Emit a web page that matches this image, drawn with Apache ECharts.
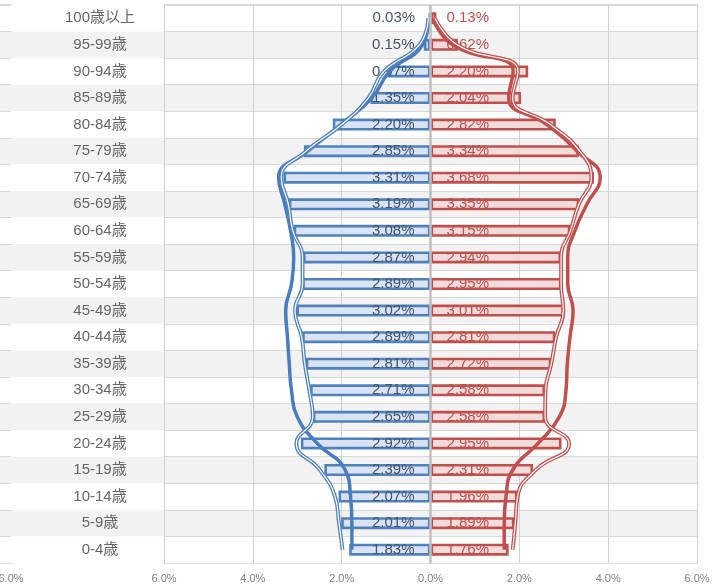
<!DOCTYPE html>
<html>
<head>
<meta charset="utf-8">
<script src="https://cdn.jsdelivr.net/npm/echarts@6/dist/echarts.min.js"></script>
<style>html,body{margin:0;padding:0;background:#fff;}#c{width:718px;height:587px;}</style>
</head>
<body>
<div id="c"></div>
<script>
const ages = ['100歳以上','95-99歳','90-94歳','85-89歳','80-84歳','75-79歳','70-74歳','65-69歳','60-64歳','55-59歳','50-54歳','45-49歳','40-44歳','35-39歳','30-34歳','25-29歳','20-24歳','15-19歳','10-14歳','5-9歳','0-4歳'];
const maleBar = [0.03,0.15,0.97,1.35,2.20,2.85,3.31,3.19,3.08,2.87,2.89,3.02,2.89,2.81,2.71,2.65,2.92,2.39,2.07,2.01,1.83];
const femaleBar = [0.13,0.62,2.20,2.04,2.82,3.34,3.68,3.35,3.15,2.94,2.95,3.01,2.81,2.72,2.58,2.58,2.95,2.31,1.96,1.89,1.76];
const maleThick = [0.04,0.18,0.92,1.32,2.02,2.76,3.42,3.28,3.15,3.08,3.13,3.26,3.22,3.18,3.13,3.00,2.55,1.92,1.80,1.77,1.77];
const maleDouble = [0.05,0.25,1.05,1.40,2.00,2.80,3.36,3.20,3.10,2.88,2.88,3.05,2.90,2.83,2.73,2.65,3.02,2.49,2.15,2.06,1.98];
const femaleThick = [0.05,0.50,1.86,1.76,2.62,3.30,3.82,3.52,3.25,3.09,3.09,3.21,3.14,3.08,3.05,2.90,2.42,1.85,1.70,1.66,1.66];
const femaleDouble = [0.10,0.60,1.97,1.85,2.70,3.36,3.62,3.34,3.15,2.94,2.94,2.99,2.83,2.72,2.59,2.58,3.12,2.37,1.96,1.91,1.85];
const xTicks = {min: -6, max: 6, interval: 2};
const leftPanelTicks = {min: 4, max: 6, interval: 2};

const FONT = "'Liberation Sans', 'Noto Sans CJK JP', sans-serif";
const BLUE = '#4f81bd', RED = '#c0504d';
const neg = a => a.map(v => -v);
const pct1 = v => Math.abs(v).toFixed(1) + '%';

const bandArea = {show: true, areaStyle: {color: ['#ffffff', '#f2f2f2']}};
const rowLines = {show: true, lineStyle: {color: '#d9d9d9', width: 1}};
const axisLbl = {formatter: pct1, color: '#808080', fontSize: 11, margin: 10};

const chart = echarts.init(document.getElementById('c'));
chart.setOption({
  backgroundColor: '#ffffff',
  textStyle: {fontFamily: FONT},
  animation: false,
  grid: [
    {left: -6, width: 17, top: 5, bottom: 24, show: true, borderColor: '#d9d9d9', borderWidth: 2, containLabel: false},
    {left: 11, width: 153, top: 5, bottom: 24, show: false, containLabel: false},
    {left: 164, right: 21, top: 5, bottom: 24, show: true, borderColor: '#d9d9d9', borderWidth: 2, containLabel: false}
  ],
  xAxis: [
    {gridIndex: 0, type: 'value', min: leftPanelTicks.min, max: leftPanelTicks.max, interval: leftPanelTicks.interval,
     axisLine: {show: false}, axisTick: {show: false}, splitLine: {show: false},
     axisLabel: Object.assign({showMinLabel: false}, axisLbl)},
    {gridIndex: 1, type: 'value', min: 0, max: 1, show: false},
    {gridIndex: 2, type: 'value', min: xTicks.min, max: xTicks.max, interval: xTicks.interval,
     axisLine: {show: false}, axisTick: {show: false},
     splitLine: {show: true, lineStyle: {color: '#d0d0d0', width: 1}},
     axisLabel: axisLbl}
  ],
  yAxis: [
    {gridIndex: 0, type: 'category', data: ages, inverse: true,
     axisLine: {show: false}, axisTick: {show: false}, axisLabel: {show: false},
     splitLine: rowLines, splitArea: bandArea},
    {gridIndex: 1, type: 'category', data: ages, inverse: true,
     axisLine: {show: false}, axisTick: {show: false}, axisLabel: {show: false},
     splitLine: {show: false}, splitArea: bandArea},
    {gridIndex: 2, type: 'category', data: ages, inverse: true,
     axisLine: {show: false}, axisTick: {show: false},
     axisLabel: {color: '#666666', fontSize: 15, align: 'center', margin: 64},
     splitLine: rowLines, splitArea: bandArea}
  ],
  series: [
    {type: 'bar', xAxisIndex: 2, yAxisIndex: 2, stack: 'pop', data: neg(maleBar), barWidth: 12,
     itemStyle: {color: '#dae3f3', borderColor: BLUE, borderWidth: 2.6},
     label: {show: true, position: 'insideRight', distance: 16, color: '#44546a', fontSize: 15,
             formatter: p => Math.abs(p.value).toFixed(2) + '%'}},
    {type: 'bar', xAxisIndex: 2, yAxisIndex: 2, stack: 'pop', data: femaleBar, barWidth: 12,
     itemStyle: {color: '#f2dcdb', borderColor: RED, borderWidth: 2.6},
     label: {show: true, position: 'insideLeft', distance: 16, color: '#b9504d', fontSize: 15,
             formatter: p => p.value.toFixed(2) + '%'},
     markLine: {silent: true, symbol: ['none', 'none'], label: {show: false},
                lineStyle: {color: '#bfbfbf', width: 2.5, type: 'solid'}, data: [{xAxis: 0}]}},
    {type: 'line', xAxisIndex: 2, yAxisIndex: 2, data: neg(maleThick), smooth: 0.5, symbol: 'none', z: 3,
     lineStyle: {color: '#4a7dbd', width: 3.5}},
    {type: 'line', xAxisIndex: 2, yAxisIndex: 2, data: neg(maleDouble), smooth: 0.5, symbol: 'none', z: 4,
     lineStyle: {color: BLUE, width: 3.8}},
    {type: 'line', xAxisIndex: 2, yAxisIndex: 2, data: neg(maleDouble), smooth: 0.5, symbol: 'none', z: 5,
     lineStyle: {color: '#ffffff', width: 1.2}},
    {type: 'line', xAxisIndex: 2, yAxisIndex: 2, data: femaleThick, smooth: 0.5, symbol: 'none', z: 3,
     lineStyle: {color: RED, width: 3.5}},
    {type: 'line', xAxisIndex: 2, yAxisIndex: 2, data: femaleDouble, smooth: 0.5, symbol: 'none', z: 4,
     lineStyle: {color: RED, width: 3.8}},
    {type: 'line', xAxisIndex: 2, yAxisIndex: 2, data: femaleDouble, smooth: 0.5, symbol: 'none', z: 5,
     lineStyle: {color: '#ffffff', width: 1.2}}
  ]
});
</script>
</body>
</html>
